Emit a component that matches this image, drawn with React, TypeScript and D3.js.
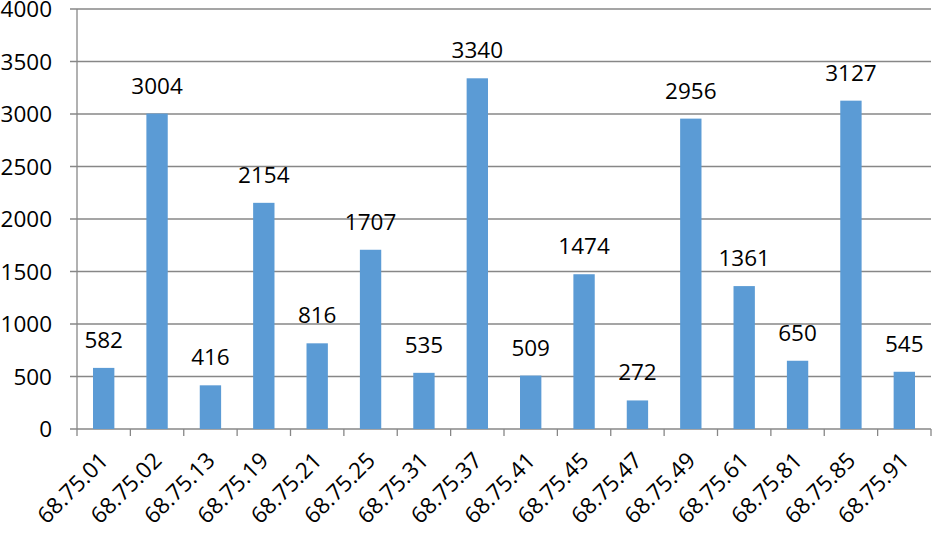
import React from "react";
import * as d3 from "d3";

const categories = ["68.75.01","68.75.02","68.75.13","68.75.19","68.75.21","68.75.25","68.75.31","68.75.37","68.75.41","68.75.45","68.75.47","68.75.49","68.75.61","68.75.81","68.75.85","68.75.91"];
const values = [582,3004,416,2154,816,1707,535,3340,509,1474,272,2956,1361,650,3127,545];
const yTicks = [0,500,1000,1500,2000,2500,3000,3500,4000];

const W = 932, H = 534;
const left = 77, right = 931, top = 9, bottom = 429;
const FONT = "'Open Sans', 'Liberation Sans', Arial, sans-serif";
const GRID = "#878787";
const BAR = "#5B9BD5";
const FS = 22.5;

export default function App() {
  const x = d3.scaleBand<string>().domain(categories).range([left, right]).paddingInner(0).paddingOuter(0);
  const bw = x.bandwidth() / 2.5;
  const y = d3.scaleLinear().domain([0, 4000]).range([bottom, top]);
  return (
    <svg width={W} height={H} style={{ position: "absolute", left: 0, top: 0, background: "#fff" }}>
      {yTicks.map(t => (
        <g key={t}>
          <line x1={left - 7} x2={right} y1={y(t)} y2={y(t)} stroke={GRID} strokeWidth={1.3} />
          <text x={52} y={y(t) + 8} textAnchor="end" fontFamily={FONT} fontSize={FS} fill="#000">{t}</text>
        </g>
      ))}
      <line x1={left} x2={left} y1={top} y2={bottom} stroke={GRID} strokeWidth={1.3} />
      {categories.map((c, i) => (
        <line key={"t" + i} x1={x(c)!} x2={x(c)!} y1={bottom} y2={bottom + 7} stroke={GRID} strokeWidth={1.3} />
      ))}
      <line x1={right} x2={right} y1={bottom} y2={bottom + 7} stroke={GRID} strokeWidth={1.3} />
      {categories.map((c, i) => {
        const cx = x(c)! + x.bandwidth() / 2;
        return (
          <g key={c}>
            <rect x={cx - bw / 2} y={y(values[i])} width={bw} height={bottom - y(values[i])} fill={BAR} />
            <text x={cx} y={y(values[i]) - 20} textAnchor="middle" fontFamily={FONT} fontSize={FS} fill="#000">{values[i]}</text>
            <text transform={`translate(${cx + 6},${bottom + 33}) rotate(-45)`} textAnchor="end" fontFamily={FONT} fontSize={FS} fill="#000">{c}</text>
          </g>
        );
      })}
    </svg>
  );
}
